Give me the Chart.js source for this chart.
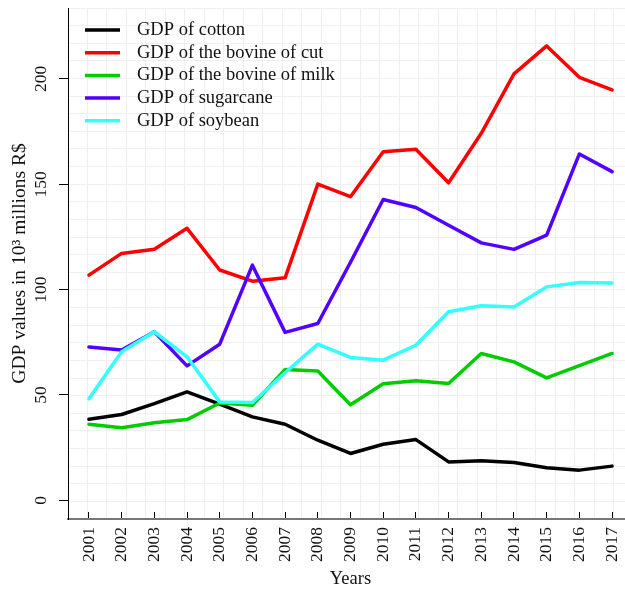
<!DOCTYPE html>
<html>
<head>
<meta charset="utf-8">
<script src="https://cdn.jsdelivr.net/npm/chart.js@4.4.1/dist/chart.umd.min.js"></script>
<style>
  html, body { margin: 0; padding: 0; overflow: hidden; background: #ffffff; }
  canvas { display: block; }
</style>
</head>
<body>
<canvas id="gdp" width="640" height="590"></canvas>
<script>
// Years on the horizontal axis
const years = [2001, 2002, 2003, 2004, 2005, 2006, 2007, 2008, 2009,
               2010, 2011, 2012, 2013, 2014, 2015, 2016, 2017];

// GDP series, in 10^3 millions R$
const cotton     = [38.5, 40.7, 45.9, 51.5, 45.6, 39.6, 36.1, 28.5, 22.2, 26.6, 28.8, 18.2, 18.7, 17.9, 15.4, 14.3, 16.2];
const bovineCut  = [106.9, 117.2, 119.2, 129.1, 109.3, 104.0, 105.6, 150.1, 144.1, 165.5, 166.6, 150.7, 174.2, 202.4, 215.7, 200.8, 194.8];
const bovineMilk = [36.1, 34.4, 36.8, 38.3, 46.2, 45.1, 62.1, 61.4, 45.3, 55.3, 56.7, 55.4, 69.7, 65.7, 58.1, 63.9, 69.7];
const sugarcane  = [72.8, 71.3, 80.0, 63.8, 74.1, 111.6, 79.7, 83.9, 113.0, 142.8, 139.0, 130.6, 122.2, 119.1, 125.9, 164.4, 156.0];
const soybean    = [48.2, 70.5, 80.0, 68.1, 46.7, 46.4, 60.5, 74.1, 67.8, 66.5, 73.6, 89.5, 92.3, 91.8, 101.3, 103.4, 103.2];

const seriesNames  = ['GDP of cotton', 'GDP of the bovine of cut', 'GDP of the bovine of milk',
                      'GDP of sugarcane', 'GDP of soybean'];
const seriesValues = [cotton, bovineCut, bovineMilk, sugarcane, soybean];
const seriesColors = ['#000000', '#ff0000', '#00cd00', '#5200ff', '#33ffff'];

const yTickValues = [0, 50, 100, 150, 200];
const xTitle = 'Years';
const yTitle = 'GDP values in 10\u00B3 millions R$';

Chart.defaults.font.family = '"Liberation Serif", "Times New Roman", serif';
Chart.defaults.color = '#111111';

// Legend drawn as short thick line segments inside the top-left of the plot
const lineLegend = {
  id: 'lineLegend',
  afterDatasetsDraw(chart) {
    const { ctx, chartArea } = chart;
    const x0 = chartArea.left + 17;
    const y0 = chartArea.top + 22;
    ctx.save();
    ctx.font = '18.5px "Liberation Serif", serif';
    ctx.textBaseline = 'middle';
    ctx.textAlign = 'left';
    chart.data.datasets.forEach((ds, i) => {
      const y = y0 + i * 22.7;
      ctx.strokeStyle = ds.borderColor;
      ctx.lineWidth = 3.5;
      ctx.lineCap = 'butt';
      ctx.beginPath();
      ctx.moveTo(x0, y);
      ctx.lineTo(x0 + 35, y);
      ctx.stroke();
      ctx.fillStyle = '#111111';
      ctx.fillText(ds.label, x0 + 52, y);
    });
    ctx.restore();
  }
};

const gridColor = '#efefef';

new Chart(document.getElementById('gdp'), {
  type: 'line',
  data: {
    datasets: seriesNames.map((name, i) => ({
      label: name,
      data: years.map((yr, j) => ({ x: yr, y: seriesValues[i][j] })),
      borderColor: seriesColors[i],
      backgroundColor: seriesColors[i],
      borderWidth: 3.5,
      pointRadius: 0,
      tension: 0,
      fill: false,
      borderJoinStyle: 'round',
      borderCapStyle: 'round',
      order: seriesNames.length - i,
      xAxisID: 'x',
      yAxisID: 'y'
    }))
  },
  options: {
    responsive: false,
    animation: false,
    devicePixelRatio: 1,
    layout: { padding: { top: 8, right: 7, left: 0, bottom: 0 } },
    plugins: {
      legend: { display: false },
      tooltip: { enabled: false }
    },
    scales: {
      x: {
        type: 'linear',
        position: 'bottom',
        min: 2000.36,
        max: 2017.64,
        afterBuildTicks: s => { s.ticks = years.map(v => ({ value: v })); },
        afterFit: s => { s.height = 71; s.paddingLeft = 0; s.paddingRight = 0; },
        ticks: {
          autoSkip: false,
          minRotation: 90,
          maxRotation: 90,
          padding: 15,
          color: '#111111',
          font: { size: 17.5 },
          callback: v => String(v)
        },
        grid: { drawOnChartArea: false, drawTicks: true, tickLength: -7, tickColor: '#000000', tickWidth: 1 },
        border: { display: true, color: '#777777', width: 2 },
        title: { display: true, text: xTitle, color: '#111111', font: { size: 18.5 }, padding: { top: 0, bottom: 0 } }
      },
      y: {
        type: 'linear',
        position: 'left',
        min: -8.9,
        max: 233.7,
        afterBuildTicks: s => { s.ticks = yTickValues.map(v => ({ value: v })); },
        afterFit: s => { s.width = 68; s.paddingTop = 0; s.paddingBottom = 0; },
        ticks: {
          minRotation: 90,
          maxRotation: 90,
          crossAlign: 'center',
          padding: 4,
          color: '#111111',
          font: { size: 17.5 }
        },
        grid: { drawOnChartArea: false, drawTicks: true, tickLength: 9, tickColor: '#000000', tickWidth: 1 },
        border: { display: true, color: '#000000', width: 1 },
        title: { display: true, text: yTitle, color: '#111111', font: { size: 19.5 }, padding: { top: 8, bottom: 0 } }
      },
      gx: {
        type: 'linear',
        position: 'bottom',
        min: 0,
        max: 29,
        afterFit: s => { s.height = 0; s.paddingLeft = 0; s.paddingRight = 0; },
        ticks: { display: false, stepSize: 1 },
        grid: { drawTicks: false, color: c => (c.index === 0 ? 'rgba(0,0,0,0)' : gridColor) },
        border: { display: false }
      },
      gy: {
        type: 'linear',
        position: 'left',
        min: 0,
        max: 29,
        afterFit: s => { s.width = 0; s.paddingTop = 0; s.paddingBottom = 0; },
        ticks: { display: false, stepSize: 1 },
        grid: { drawTicks: false, color: c => (c.index === 0 ? 'rgba(0,0,0,0)' : gridColor) },
        border: { display: false }
      }
    }
  },
  plugins: [lineLegend]
});
</script>
</body>
</html>
